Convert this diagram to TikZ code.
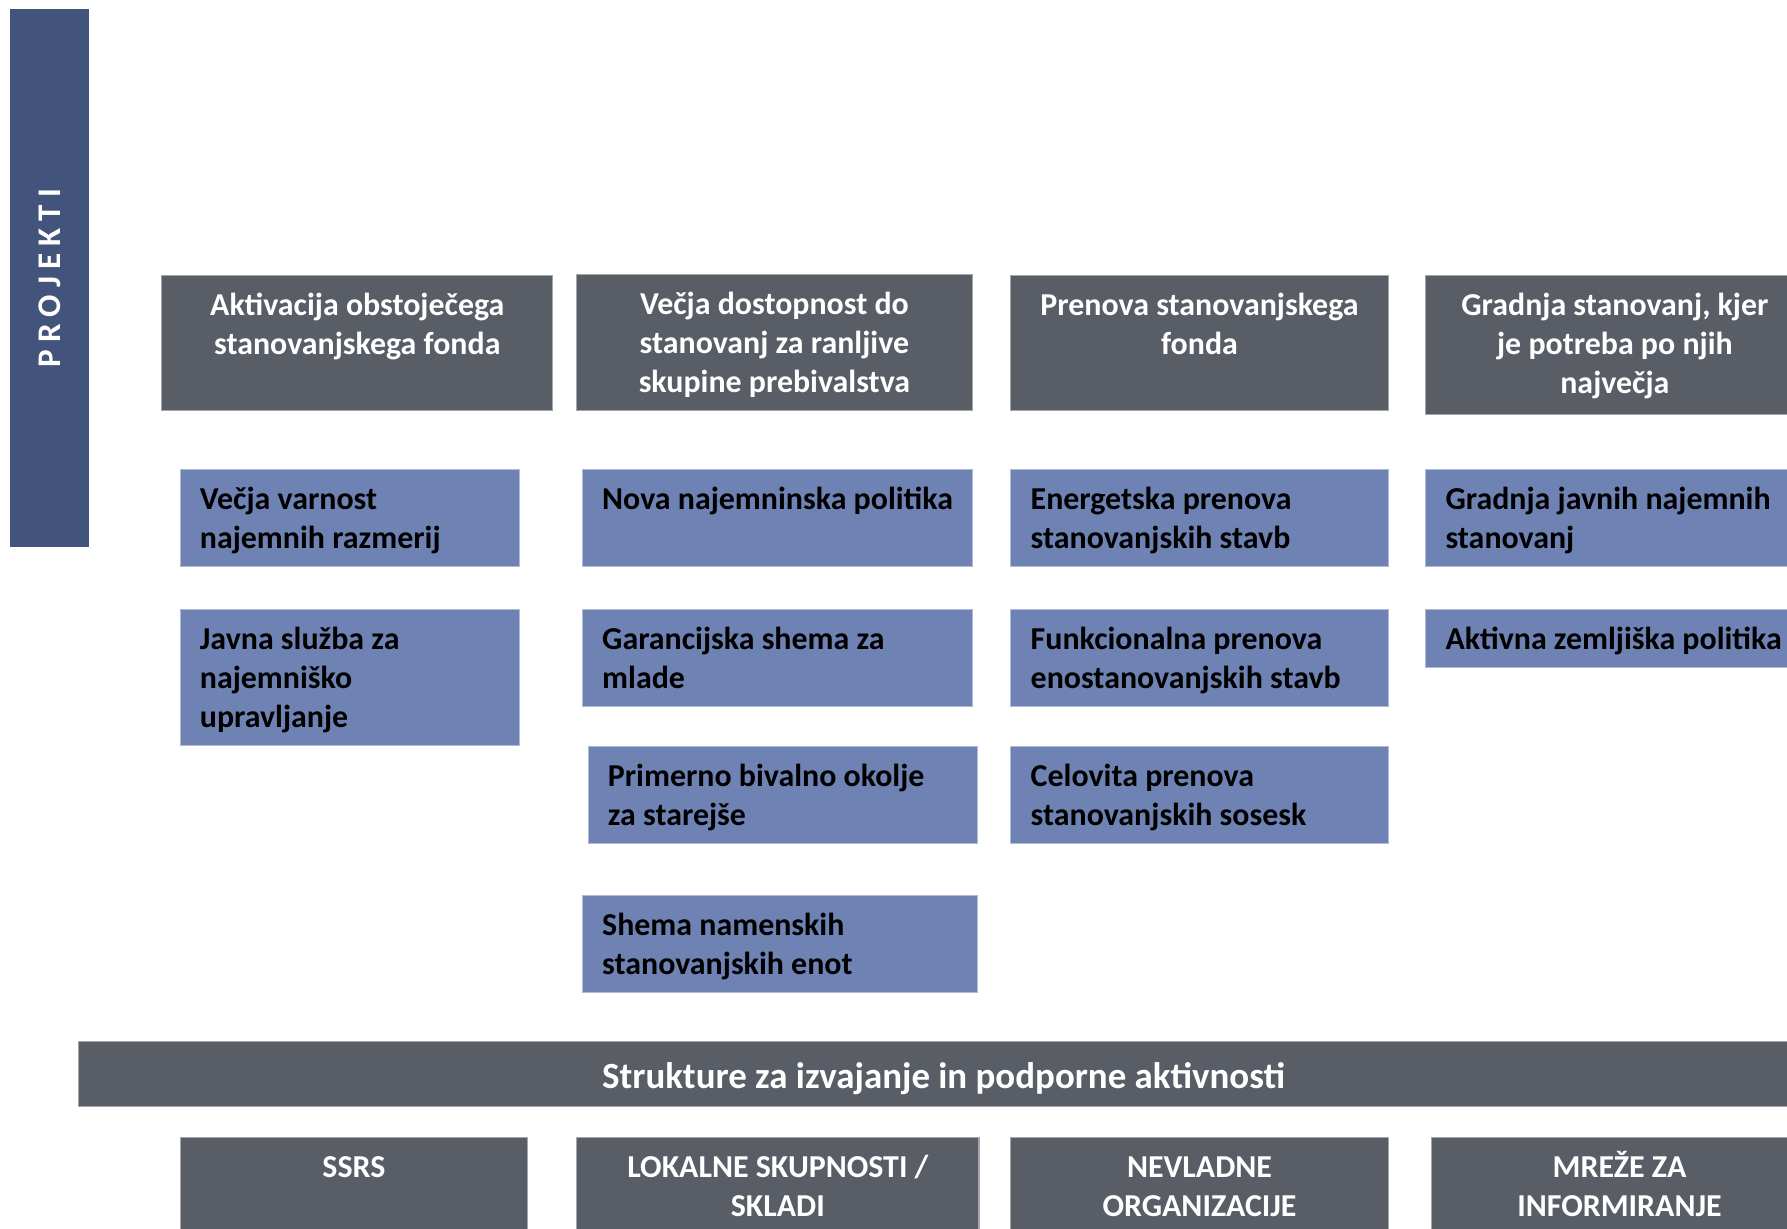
\documentclass[tikz,border=0pt]{standalone}
\usepackage{fontspec}
\setmainfont{Carlito}
\usepackage{tikz}
\definecolor{headgrey}{HTML}{595D66}
\definecolor{boxblue}{HTML}{6E83B4}
\definecolor{barblue}{HTML}{43547C}

\begin{document}
\begin{tikzpicture}[x=0.5pt, y=-0.5pt,
    head_box/.style={fill=headgrey, draw=headgrey!55!white, line width=0.5pt},
    blue_box/.style={fill=boxblue, draw=boxblue!55!white, line width=0.5pt},
    head_text/.style={anchor=base, align=center, inner sep=0pt, text=white, font=\fontsize{14}{17}\selectfont\bfseries},
    blue_text/.style={anchor=base west, align=left, inner sep=0pt, text=black, font=\fontsize{14}{17}\selectfont\bfseries}]
    \useasboundingbox (0,0) rectangle (1568,1078);

    % side bar
    \fill[barblue] (9,8) rectangle (78,480);
    \node[rotate=90, inner sep=0pt, text=white, font=\fontsize{14.5}{17}\selectfont\bfseries\addfontfeature{LetterSpace=22}] (projekti) at (44,244) {PROJEKTI};

    % headers (nodes sit on the baseline of their last line)
    \draw[head_box] (142,242) rectangle (485,360);
    \node[head_text] (aktivacija) at (313.5,311) {Aktivacija obstoječega\\stanovanjskega fonda};
    \draw[head_box] (506,241) rectangle (853,360);
    \node[head_text] (dostopnost) at (679.5,344) {Večja dostopnost do\\stanovanj za ranljive\\skupine prebivalstva};
    \draw[head_box] (887,242) rectangle (1218,360);
    \node[head_text] (prenova) at (1052.5,311) {Prenova stanovanjskega\\fonda};
    \draw[head_box] (1251,242) rectangle (1600,364);
    \node[head_text] (gradnja) at (1417,345) {Gradnja stanovanj, kjer\\je potreba po njih\\največja};

    % projects
    \draw[blue_box] (158,412) rectangle (456,497);
    \node[blue_text] (varnost) at (175,481) {Večja varnost\\najemnih razmerij};
    \draw[blue_box] (158,535) rectangle (456,654);
    \node[blue_text] (javna) at (175,638) {Javna služba za\\najemniško\\upravljanje};
    \draw[blue_box] (511,412) rectangle (853,497);
    \node[blue_text] (najemnina) at (528,447) {Nova najemninska politika};
    \draw[blue_box] (511,535) rectangle (853,620);
    \node[blue_text] (garancija) at (528,604) {Garancijska shema za\\mlade};
    \draw[blue_box] (516,655) rectangle (858,740);
    \node[blue_text] (starejsi) at (533,724) {Primerno bivalno okolje\\za starejše};
    \draw[blue_box] (511,786) rectangle (858,871);
    \node[blue_text] (namenske) at (528,855) {Shema namenskih\\stanovanjskih enot};
    \draw[blue_box] (887,412) rectangle (1218,497);
    \node[blue_text] (energetska) at (904,481) {Energetska prenova\\stanovanjskih stavb};
    \draw[blue_box] (887,535) rectangle (1218,620);
    \node[blue_text] (funkcionalna) at (904,604) {Funkcionalna prenova\\enostanovanjskih stavb};
    \draw[blue_box] (887,655) rectangle (1218,740);
    \node[blue_text] (celovita) at (904,724) {Celovita prenova\\stanovanjskih sosesk};
    \draw[blue_box] (1251,412) rectangle (1600,497);
    \node[blue_text] (najemna) at (1268,481) {Gradnja javnih najemnih\\stanovanj};
    \draw[blue_box] (1251,535) rectangle (1600,586);
    \node[blue_text] (zemljisca) at (1268,570) {Aktivna zemljiška politika};

    % support structures
    \draw[head_box] (69,914) rectangle (1600,971);
    \node[head_text, font=\fontsize{16.2}{19}\selectfont\bfseries] (strukture) at (828,955) {Strukture za izvajanje in podporne aktivnosti};
    \draw[head_box] (158,998) rectangle (463,1100);
    \node[head_text] (ssrs) at (310.5,1033) {SSRS};
    \draw[head_box] (506,998) rectangle (859,1100);
    \node[head_text] (lokalne) at (682.5,1067) {LOKALNE SKUPNOSTI /\\SKLADI};
    \draw[head_box] (887,998) rectangle (1218,1100);
    \node[head_text] (nevladne) at (1052.5,1067) {NEVLADNE\\ORGANIZACIJE};
    \draw[head_box] (1256,998) rectangle (1600,1100);
    \node[head_text] (mreze) at (1421,1067) {MREŽE ZA\\INFORMIRANJE};
\end{tikzpicture}
\end{document}
